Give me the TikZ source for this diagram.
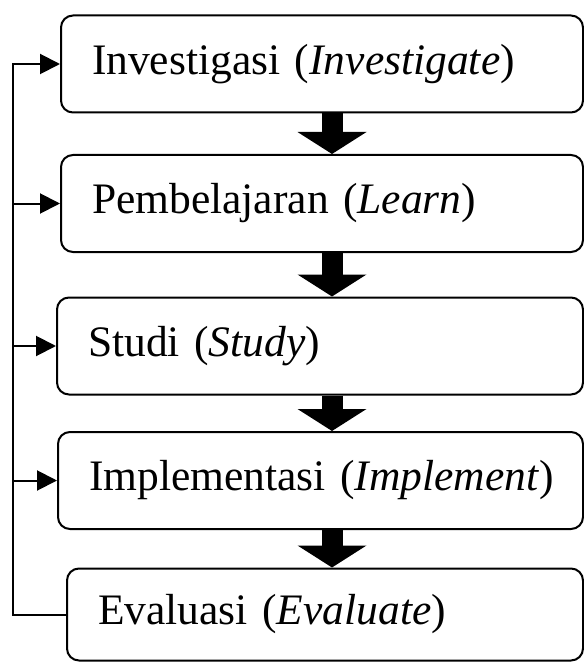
\documentclass[tikz,border=0pt]{standalone}
\usepackage{fontspec}
\setmainfont{Liberation Serif}
\usetikzlibrary{arrows.meta, calc}
\tikzset{
  stage/.style={draw, line width=2pt, rounded corners=12pt, minimum height=97pt,
    inner xsep=31pt, align=left, anchor=west, font=\fontsize{43.5}{52}\selectfont},
  bigarrow/.style={line width=21pt, -{Triangle[width=68pt,length=22pt]}},
  smallarrow/.style={line width=2pt, -{Triangle[width=20pt,length=20pt]}}
}

\begin{document}
\begin{tikzpicture}[x=1pt,y=-1pt]
  \useasboundingbox (0,0) rectangle (583,663);
  \node[stage, text width=460pt] (inv) at (60,64) {Investigasi (\textit{Investigate})};
  \node[stage, text width=460pt] (lrn) at (60,203.5) {Pembelajaran (\textit{Learn})};
  \node[stage, text width=464pt] (std) at (56,346) {Studi (\textit{Study})};
  \node[stage, text width=463pt] (imp) at (57,480.5) {\mbox{Implementasi (\textit{Implement})}};
  \node[stage, text width=454pt, minimum height=92pt] (evl) at (66,614.5) {Evaluasi (\textit{Evaluate})};
  \coordinate (flow) at (332,0);
  \coordinate (back) at (13,0);
  % main sequence
  \path[bigarrow]
    (inv.south -| flow) edge (lrn.north -| flow)
    (lrn.south -| flow) edge (std.north -| flow)
    (std.south -| flow) edge (imp.north -| flow)
    (imp.south -| flow) edge (evl.north -| flow)
    ;
  % feedback loop
  \draw[smallarrow] (evl.west) -- (evl.west -| back) |- (inv.west);
  \path[smallarrow]
    (lrn.west -| back) edge (lrn.west)
    (std.west -| back) edge (std.west)
    (imp.west -| back) edge (imp.west)
    ;
\end{tikzpicture}
\end{document}
